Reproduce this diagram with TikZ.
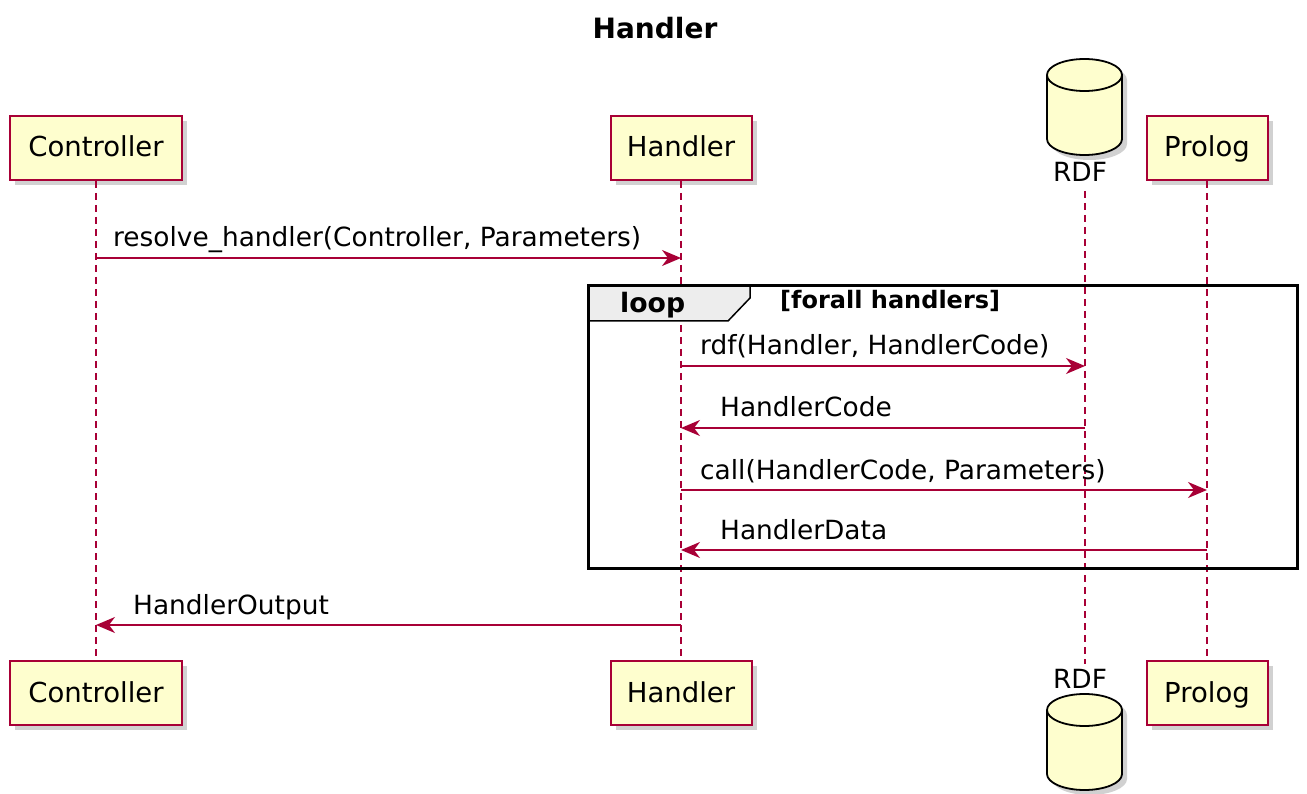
\documentclass[tikz,border=0pt]{standalone}
\usepackage{fontspec}
\setmainfont{DejaVu Sans}
\usetikzlibrary{arrows.meta,shadows}
\definecolor{pfill}{HTML}{FEFECE}
\definecolor{pline}{HTML}{A80036}
\begin{document}
\begin{tikzpicture}[x=1pt,y=-1pt,
 part/.style={draw=pline, line width=2pt, fill=pfill, minimum height=64pt, inner sep=0pt,
   text height=24pt, text depth=6pt,
   font=\fontsize{27.5}{30}\selectfont,
   drop shadow={shadow xshift=5pt, shadow yshift=-5pt, fill=black!40, opacity=0.45}},
 life/.style={draw=pline, dash pattern=on 7pt off 5pt, line width=1.6pt},
 msg/.style={draw=pline, line width=1.8pt, -{Stealth[length=19pt,width=16pt,inset=6pt]}},
 lbl/.style={anchor=base west, inner sep=0pt, font=\fontsize{26.4}{28}\selectfont},
 dbshape/.style={fill=pfill, draw=black, line width=1.8pt},
 dbshadow/.style={fill=black!40, opacity=0.45},
]
\useasboundingbox (0,0) rectangle (1307,794);
\node[font=\bfseries\fontsize{28}{30}\selectfont] (title) at (655,28) {Handler};

% participants top
\node[part, minimum width=172pt] (ctop) at (96,148) {Controller};
\node[part, minimum width=141pt] (htop) at (681,148) {Handler};
\node[part, minimum width=121pt] (ptop) at (1207,148) {Prolog};
% participants bottom
\node[part, minimum width=172pt] (cbot) at (96,693) {Controller};
\node[part, minimum width=141pt] (hbot) at (681,693) {Handler};
\node[part, minimum width=121pt] (pbot) at (1207,693) {Prolog};

% RDF top cylinder
\fill[dbshadow] (1052,80) -- (1052,144) arc (180:0:37.5 and 16) -- (1127,80) arc (0:-180:37.5 and 16) -- cycle;
\path[dbshape] (1047,75) -- (1047,139) arc (180:0:37.5 and 16) -- (1122,75) arc (0:-180:37.5 and 16) -- cycle;
\draw[line width=1.8pt] (1047,75) arc (180:0:37.5 and 16);
\node[font=\fontsize{26.4}{28}\selectfont, inner sep=0pt, anchor=base] (rtoplbl) at (1080,182) {RDF};
% RDF bottom cylinder
\fill[dbshadow] (1052,715) -- (1052,779) arc (180:0:37.5 and 16) -- (1127,715) arc (0:-180:37.5 and 16) -- cycle;
\path[dbshape] (1047,710) -- (1047,774) arc (180:0:37.5 and 16) -- (1122,710) arc (0:-180:37.5 and 16) -- cycle;
\draw[line width=1.8pt] (1047,710) arc (180:0:37.5 and 16);
\node[font=\fontsize{26.4}{28}\selectfont, inner sep=0pt, anchor=base] (rbotlbl) at (1080,688) {RDF};

\coordinate (rtop) at (1085,191);
\coordinate (rbot) at (1085,664);

% lifelines
\draw[life] (ctop.south) -- (cbot.north);
\draw[life] (htop.south) -- (hbot.north);
\draw[life] (rtop) -- (rbot);
\draw[life] (ptop.south) -- (pbot.north);

% loop frame
\filldraw[fill=black!7, draw=black, line width=1.5pt] (588,286) -- (750,286) -- (750,298) -- (728,321) -- (588,321) -- cycle;
\draw[black, line width=3pt] (588,286) rectangle (1297,568);
\node[anchor=base west, inner sep=0pt, font=\bfseries\fontsize{26.7}{28}\selectfont] (looplbl) at (620,313) {loop};
\node[anchor=base west, inner sep=0pt, font=\bfseries\fontsize{24}{26}\selectfont] (guard) at (780,309) {[forall handlers]};

% messages
\coordinate (m1) at (0,258);
\coordinate (m2) at (0,366);
\coordinate (m3) at (0,428);
\coordinate (m4) at (0,490);
\coordinate (m5) at (0,550);
\coordinate (m6) at (0,625);

\draw[msg] (ctop.south |- m1) -- (htop.south |- m1);
\node[lbl] (l1) at (113,247) {resolve\_handler(Controller, Parameters)};
\draw[msg] (htop.south |- m2) -- (rtop |- m2);
\node[lbl] (l2) at (700,355) {rdf(Handler, HandlerCode)};
\draw[msg] (rtop |- m3) -- (htop.south |- m3);
\node[lbl] (l3) at (720,417) {HandlerCode};
\draw[msg] (htop.south |- m4) -- (ptop.south |- m4);
\node[lbl] (l4) at (700,479) {call(HandlerCode, Parameters)};
\draw[msg] (ptop.south |- m5) -- (htop.south |- m5);
\node[lbl] (l5) at (720,539) {HandlerData};
\draw[msg] (htop.south |- m6) -- (ctop.south |- m6);
\node[lbl] (l6) at (133,614) {HandlerOutput};
\end{tikzpicture}
\end{document}
